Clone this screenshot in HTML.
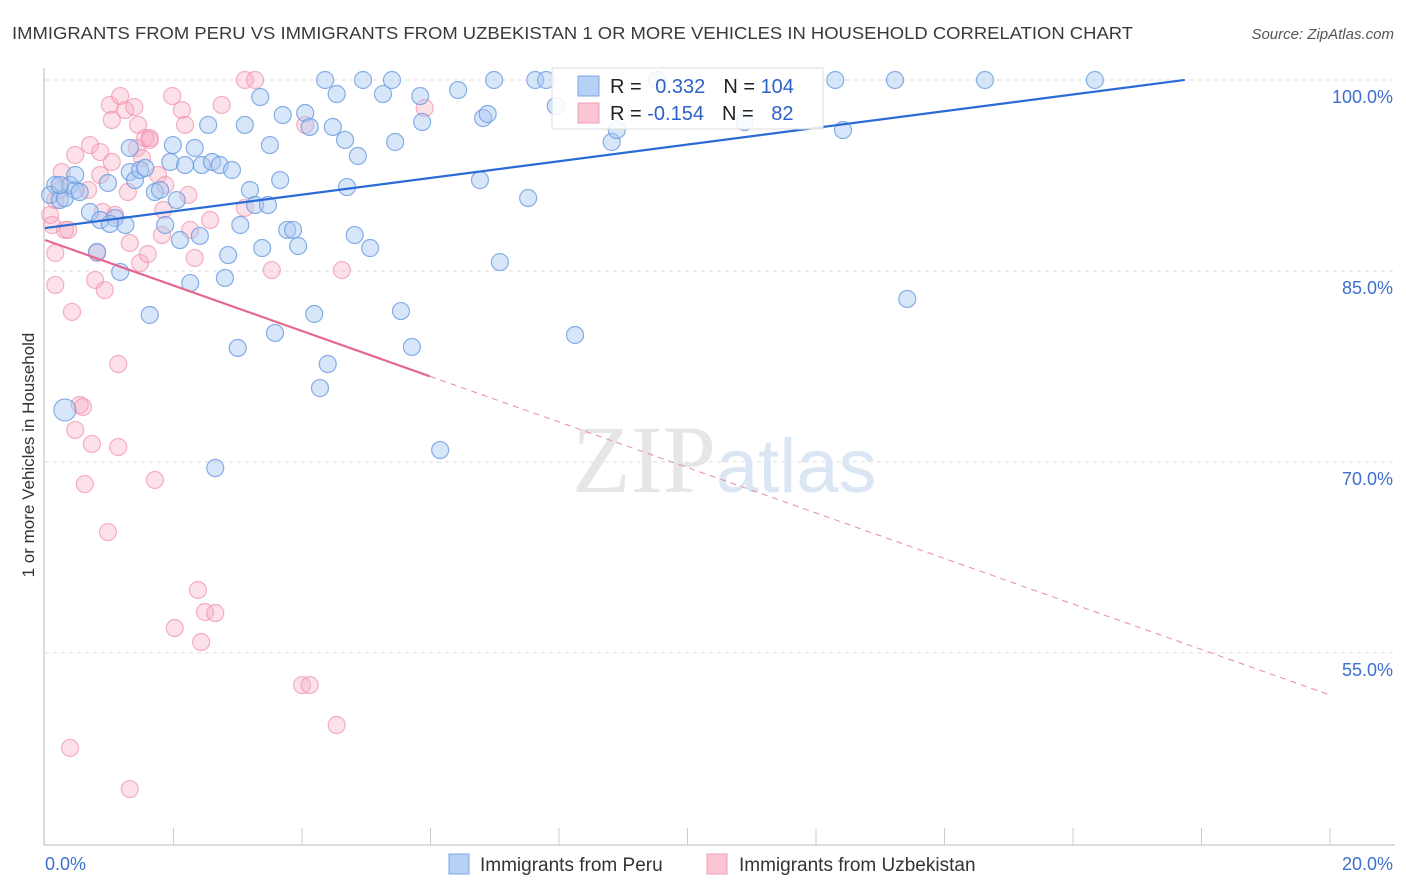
<!DOCTYPE html>
<html><head><meta charset="utf-8">
<style>
body{margin:0;background:#fff;font-family:"Liberation Sans",sans-serif;}
svg{display:block}
</style></head>
<body>
<svg id="chart" width="1406" height="892">
<text x="12" y="39" font-size="17.5" fill="#3a3a3a" textLength="1121" lengthAdjust="spacingAndGlyphs">IMMIGRANTS FROM PERU VS IMMIGRANTS FROM UZBEKISTAN 1 OR MORE VEHICLES IN HOUSEHOLD CORRELATION CHART</text>
<text x="1394" y="39" font-size="15" fill="#555" font-style="italic" text-anchor="end">Source: ZipAtlas.com</text>
<text x="0" y="0" transform="translate(34,455) rotate(-90)" font-size="17" fill="#333" text-anchor="middle">1 or more Vehicles in Household</text>
<g id="grid"></g>
<text x="716" y="492" font-size="96" fill="#e6e6e6" font-family="Liberation Serif" text-anchor="end">ZIP</text>
<text x="716" y="492" font-size="76" fill="#dbe6f4">atlas</text>
<g id="axes"></g>
<g id="pink"></g>
<g id="blue"></g>
<g id="trends"></g>
<g>
<rect x="552" y="68" width="271" height="61" fill="#fff" fill-opacity="0.85" stroke="#ddd"/>
<rect x="578" y="76" width="21" height="20" fill="#b6d1f5" stroke="#7fa8e0"/>
<rect x="578" y="103" width="21" height="20" fill="#fcc5d3" stroke="#eea0b6"/>
<text x="610" y="93" font-size="20" fill="#222">R = <tspan fill="#2b62c9" dx="8">0.332</tspan><tspan dx="18">N = </tspan><tspan fill="#2b62c9">104</tspan></text>
<text x="610" y="120" font-size="20" fill="#222">R = <tspan fill="#2b62c9">-0.154</tspan><tspan dx="18">N = </tspan><tspan fill="#2b62c9" dx="12">82</tspan></text>
</g>
<g>
<rect x="449" y="854" width="20" height="20" fill="#b6d1f5" stroke="#7fa8e0"/>
<text x="480" y="871" font-size="19" fill="#333">Immigrants from Peru</text>
<rect x="707" y="854" width="20" height="20" fill="#fcc5d3" stroke="#eea0b6"/>
<text x="739" y="871" font-size="19" fill="#333">Immigrants from Uzbekistan</text>
</g>
</svg>
<script>
const blueX=[0.16,0.08,0.23,0.31,0.39,0.47,0.54,0.47,0.70,0.86,0.81,0.98,1.09,1.17,1.25,1.32,1.40,1.48,1.56,1.63,1.71,1.79,1.87,1.95,1.99,2.05,2.10,2.18,2.26,2.33,2.41,2.44,2.54,2.60,2.65,2.72,2.80,2.85,2.91,3.00,3.04,3.11,3.19,3.27,3.35,3.38,3.47,3.50,3.58,3.66,3.70,3.77,3.86,3.94,4.05,4.12,4.19,4.28,4.36,4.40,4.48,4.54,4.67,4.70,4.82,4.87,4.95,5.06,5.26,5.40,5.45,5.54,5.71,5.84,5.87,6.15,6.43,6.77,6.82,6.89,6.99,7.08,7.52,7.63,7.80,7.95,8.25,8.82,8.90,9.53,10.89,12.30,12.42,13.23,13.42,14.63,16.34,0.31,1.01,1.32,0.23];
const blueY=[91.75,90.97,90.57,90.73,91.75,91.36,91.2,92.54,89.63,89.0,86.49,91.91,89.16,84.92,88.61,92.77,92.14,92.93,93.09,81.54,91.2,91.36,88.61,93.56,94.89,90.57,87.43,93.32,84.05,94.66,87.75,93.32,96.47,93.56,69.52,93.32,84.45,86.25,92.93,78.95,88.61,96.47,91.36,90.18,98.66,86.8,90.18,94.89,80.13,92.14,97.25,88.22,88.22,86.96,97.41,96.31,81.62,75.8,100,77.69,96.31,98.9,95.29,91.59,87.82,94.03,100,86.8,98.9,100,95.13,81.85,79.03,98.74,96.7,70.93,99.21,92.14,97.01,97.33,100,85.7,90.73,100,100,97.96,79.97,95.13,96.07,100,96.7,100,96.07,100,82.8,100,100,74.08,88.69,94.66,91.75];
const pinkX=[0.16,0.08,0.11,0.16,0.16,0.23,0.26,0.31,0.36,0.42,0.47,0.47,0.54,0.59,0.62,0.67,0.70,0.73,0.78,0.81,0.86,0.86,0.90,0.93,0.98,1.01,1.04,1.04,1.09,1.14,1.14,1.17,1.25,1.29,1.32,1.39,1.43,1.45,1.48,1.51,1.56,1.60,1.63,1.71,1.76,1.82,1.84,1.87,1.98,2.02,2.13,2.18,2.23,2.26,2.33,2.38,2.43,2.49,2.57,2.65,2.75,3.11,3.11,3.27,3.53,4.0,4.12,4.05,4.54,4.62,5.91,0.39,1.32,1.63];
const pinkY=[90.57,89.4,88.61,86.41,83.9,91.36,92.77,88.22,88.22,81.78,94.11,72.51,74.47,74.31,68.26,91.36,94.89,71.41,84.29,86.41,94.34,92.54,89.63,83.5,64.49,98.04,93.56,96.86,89.4,77.69,71.17,98.74,97.64,91.2,87.2,97.88,94.66,96.47,85.62,93.87,95.44,86.33,95.44,68.58,92.54,87.82,89.79,91.75,98.74,56.95,97.64,96.47,90.97,88.22,86.02,59.94,55.85,58.21,89.0,58.13,98.04,89.95,100,100,85.07,52.47,52.47,96.47,49.33,85.07,97.8,47.53,44.3,95.29];
const yTicks=[100,85,70,55];
const yTickLabels=["100.0%","85.0%","70.0%","55.0%"];
const xLabels=["0.0%","20.0%"];
const blueTrend=[88.37,0.656,17.74];
const pinkTrend=[87.43,-1.787,5.99];
const X=v=>45+v*64.25, Y=v=>80+(100-v)*12.73;
const NS="http://www.w3.org/2000/svg";
function mk(tag,parent,attrs){const e=document.createElementNS(NS,tag);for(const k in attrs)e.setAttribute(k,attrs[k]);document.getElementById(parent).appendChild(e);return e;}
yTicks.forEach((t,i)=>{
 const l=mk('line','grid',{x1:45,x2:1395,y1:Y(t),y2:Y(t),stroke:'#ddd','stroke-dasharray':'4,4'});
 
 
 const tx=mk('text','grid',{x:1393,y:Y(t)+23,'font-size':18,fill:'#3d6fd0','text-anchor':'end'});
 tx.textContent=yTickLabels[i];
 
 
});
let a=mk('line','axes',{x1:44,x2:44,y1:68,y2:845,stroke:'#bbb'});


a=mk('line','axes',{x1:44,x2:1395,y1:845,y2:845,stroke:'#bbb'});


for(let i=1;i<=10;i++){
 const t=mk('line','axes',{x1:X(i*2),x2:X(i*2),y1:828,y2:845,stroke:'#ccc'});
 
 
}
[[0,'start',45],[20,'end',1393]].forEach((d,i)=>{
 const t=mk('text','axes',{x:d[2],y:870,'font-size':18,fill:'#3d6fd0','text-anchor':d[1]});
 t.textContent=xLabels[i];
 
 
});
pinkX.forEach((x,i)=>{
 const c=mk('circle','pink',{cx:X(x),cy:Y(pinkY[i]),r:8.5,fill:'#f7a8c0','fill-opacity':0.35,stroke:'#ef92ad','stroke-opacity':0.7,'stroke-width':1.2});
 
 
});
blueX.forEach((x,i)=>{
 const big=(i===blueX.length-4);
 const c=mk('circle','blue',{cx:X(x),cy:Y(blueY[i]),r:big?11:8.5,fill:'#a9c8f2','fill-opacity':0.45,stroke:'#6a9be0','stroke-opacity':0.8,'stroke-width':1.2});
 
 
});
let t=mk('line','trends',{x1:X(0),y1:Y(blueTrend[0]),x2:X(blueTrend[2]),y2:Y(blueTrend[0]+blueTrend[1]*blueTrend[2]),stroke:'#2b6bd6','stroke-width':2.2});


t=mk('line','trends',{x1:X(0),y1:Y(pinkTrend[0]),x2:X(pinkTrend[2]),y2:Y(pinkTrend[0]+pinkTrend[1]*pinkTrend[2]),stroke:'#e5668f','stroke-width':2.2});


t=mk('line','trends',{x1:X(pinkTrend[2]),y1:Y(pinkTrend[0]+pinkTrend[1]*pinkTrend[2]),x2:X(20),y2:Y(pinkTrend[0]+pinkTrend[1]*20),stroke:'#e88aa8','stroke-width':1,'stroke-dasharray':'6,5'});


</script>
</body></html>
